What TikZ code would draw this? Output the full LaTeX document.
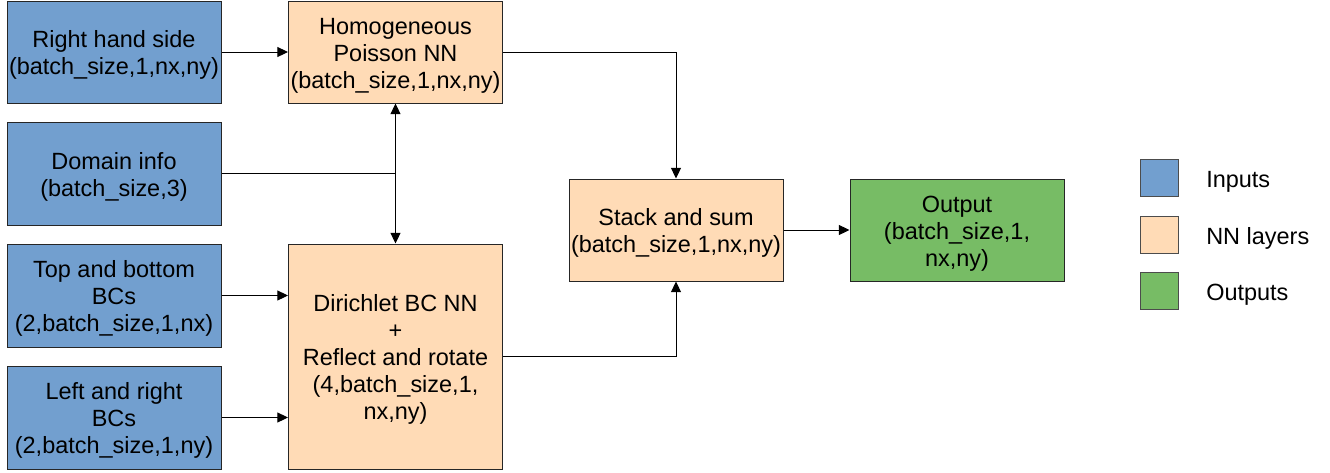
\documentclass[tikz,border=0pt]{standalone}
\usepackage{fontspec}
\setmainfont{Liberation Sans}
\usepackage{tikz}
\usetikzlibrary{calc,arrows.meta,positioning}
\definecolor{inblue}{HTML}{729FCF}
\definecolor{nnorange}{HTML}{FFDBB6}
\definecolor{outgreen}{HTML}{77BC65}
\newcommand{\topgap}{\rule{0pt}{17.6pt}}

\begin{document}
\begin{tikzpicture}[x=0.75pt,y=-0.75pt,
	blk/.style={draw=black!85,line width=0.75pt,inner sep=0pt,align=center,
		minimum width=160.5pt,minimum height=76.5pt,
		font=\fontsize{17.6pt}{20.25pt}\selectfont},
	inp/.style={blk,fill=inblue},
	nnl/.style={blk,fill=nnorange},
	outp/.style={blk,fill=outgreen},
	key/.style={draw=black!70,line width=0.75pt,minimum width=28.5pt,minimum height=27.75pt,inner sep=0pt},
	keytext/.style={anchor=west,inner sep=0pt,font=\fontsize{17.6pt}{20.25pt}\selectfont},
	flow/.style={line width=0.75pt,-{Triangle[length=8pt,width=7.5pt]}}]
			\useasboundingbox (0,0) rectangle (1330,472);
			% inputs
			\node[inp] (rhs) at (114,52) {\topgap Right hand side\\(batch\_size,1,nx,ny)};
			\node[inp,minimum height=77.25pt] (dom) at (114,173.5) {\topgap Domain info\\(batch\_size,3)};
			\node[inp,minimum height=77.25pt] (tb) at (114,295.5) {\topgap Top and bottom\\BCs\\(2,batch\_size,1,nx)};
			\node[inp,minimum height=77.25pt] (lr) at (114,417.5) {\topgap Left and right\\BCs\\(2,batch\_size,1,ny)};
			% NN layers
			\node[nnl] (poi) at (395.5,52) {\topgap Homogeneous\\Poisson NN\\(batch\_size,1,nx,ny)};
			\node[nnl,minimum height=168.75pt] (dir) at (395.5,356.5) {\topgap Dirichlet BC NN\\+\\Reflect and rotate\\(4,batch\_size,1,\\nx,ny)};
			\node[nnl] (stk) at (676,230) {\topgap Stack and sum\\(batch\_size,1,nx,ny)};
			% output
			\node[outp] (out) at (957,230) {\topgap Output\\(batch\_size,1,\\nx,ny)};
			
			\coordinate (split) at (poi |- dom);
			\draw[flow] (rhs) -- (poi);
			\draw[line width=0.75pt] (dom.east) -- (split);
			\draw[flow] (split) -- (poi.south);
			\draw[flow] (split) -- (dir.north);
			\draw[flow] (tb.east) -- (tb.east -| dir.west);
			\draw[flow] (lr.east) -- (lr.east -| dir.west);
			\draw[flow] (poi.east) -| (stk.north);
			\draw[flow] (dir.east) -| (stk.south);
			\draw[flow] (stk) -- (out);
			
			% legend
			\foreach \y/\c/\t/\n in {178/inblue/Inputs/kin,234.5/nnorange/NN layers/knn,290.5/outgreen/Outputs/kout}
			{\node[key,fill=\c] (\n) at (1159,\y) {};
			\node[keytext] (\n-t) at (1206,\y+4) {\t};}
		\end{tikzpicture}
\end{document}
